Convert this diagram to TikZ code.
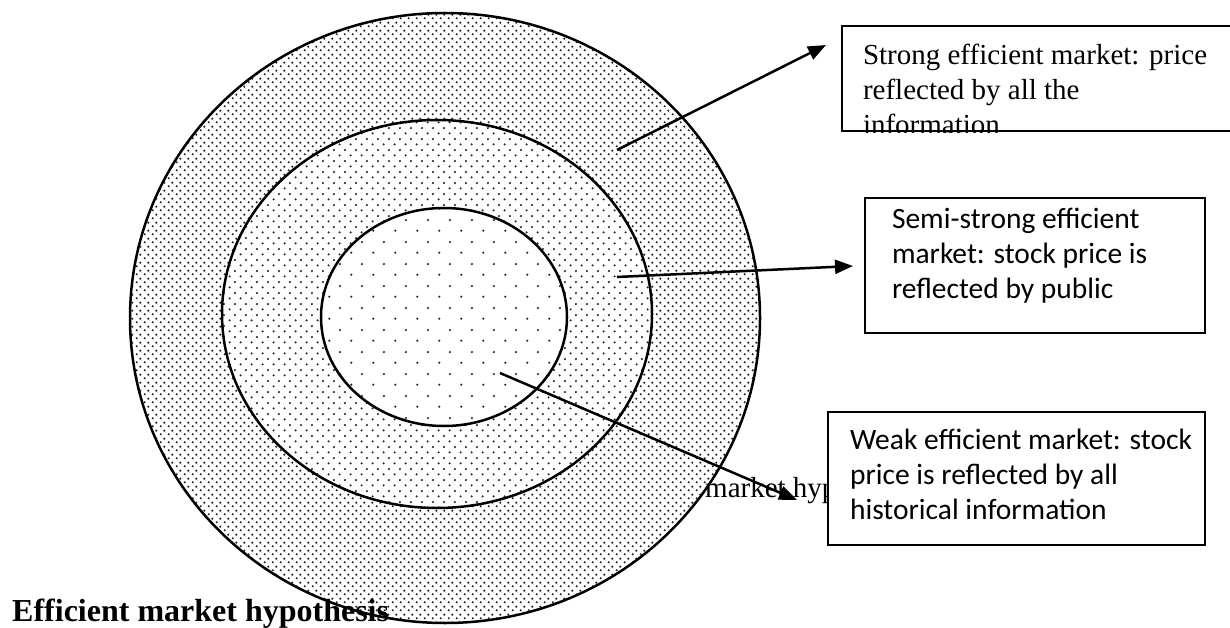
\documentclass[tikz,border=0pt]{standalone}
\usepackage{fontspec}
\setmainfont{Liberation Serif}
\newfontfamily\calibri{Carlito}
\usetikzlibrary{arrows.meta,patterns.meta}

\pgfdeclarepattern{
  name=densedots, type=uncolored,
  bottom left={\pgfpointorigin}, top right={\pgfpoint{7.5pt}{7.5pt}},
  tile size={\pgfpoint{7.5pt}{7.5pt}},
  code={\pgfpathcircle{\pgfpoint{1.875pt}{1.875pt}}{1.3pt}
        \pgfpathcircle{\pgfpoint{5.625pt}{5.625pt}}{1.3pt}\pgfusepath{fill}}}
\pgfdeclarepattern{
  name=middots, type=uncolored,
  bottom left={\pgfpointorigin}, top right={\pgfpoint{10.8pt}{10.8pt}},
  tile size={\pgfpoint{10.8pt}{10.8pt}},
  code={\pgfpathcircle{\pgfpoint{2.7pt}{2.7pt}}{1.2pt}
        \pgfpathcircle{\pgfpoint{8.1pt}{8.1pt}}{1.2pt}\pgfusepath{fill}}}
\pgfdeclarepattern{
  name=sparsedots, type=uncolored,
  bottom left={\pgfpointorigin}, top right={\pgfpoint{21.6pt}{21.6pt}},
  tile size={\pgfpoint{21.6pt}{21.6pt}},
  code={\pgfpathcircle{\pgfpoint{5.4pt}{5.4pt}}{1.2pt}
        \pgfpathcircle{\pgfpoint{16.2pt}{16.2pt}}{1.2pt}\pgfusepath{fill}}}

\tikzset{
  ring/.style={line width=2.5pt},
  dotted ring/.style={pattern=#1, pattern color=black!85},
  textbox/.style={draw, line width=2pt, fill=white, inner sep=0pt, outer sep=0pt, anchor=north west},
  pointer/.style={line width=2.5pt, -{Triangle[length=18pt,width=14pt]}},
}

\begin{document}
\begin{tikzpicture}[x=1pt,y=-1pt]
\useasboundingbox (0,0) rectangle (1230,628);

\node[font=\fontsize{29}{35}\selectfont, anchor=base west, inner sep=0pt] (leftover) at (705,497) {market hyp};

\fill[dotted ring=densedots] (445,318) ellipse [x radius=315pt, y radius=305pt];
\fill[white] (437,314) ellipse [x radius=215pt, y radius=194pt];
\fill[dotted ring=middots] (437,314) ellipse [x radius=215pt, y radius=194pt];
\fill[white] (444,317) ellipse [x radius=123pt, y radius=109pt];
\fill[dotted ring=sparsedots] (444,317) ellipse [x radius=123pt, y radius=109pt];
\draw[ring] (445,318) ellipse [x radius=315pt, y radius=305pt];
\draw[ring] (437,314) ellipse [x radius=215pt, y radius=194pt];
\draw[ring] (444,317) ellipse [x radius=123pt, y radius=109pt];

\coordinate (strongtail) at (617,150);
\coordinate (strongtip) at (826,45);
\coordinate (semitail) at (617,277);
\coordinate (semitip) at (853,266);
\coordinate (weaktail) at (500,373);
\coordinate (weaktip) at (797,500);

\draw[pointer] (strongtail) -- (strongtip);
\draw[pointer] (semitail) -- (semitip);
\draw[pointer] (weaktail) -- (weaktip);

\begin{scope}
\clip (838,22) rectangle (1250,132.5);
\node[textbox] (strong) at (842,26) {\parbox[t][105pt][t]{400pt}{\leftskip=21pt\fontsize{29}{35}\selectfont
  \rule{0pt}{39pt}Strong efficient market: price\\reflected by all the\\information}};
\end{scope}

\node[textbox] (semi) at (865,198) {\parbox[t][135pt][t]{340pt}{\leftskip=27pt\calibri\fontsize{29.5}{35}\selectfont
  \rule{0pt}{31pt}Semi-strong efficient\\market: stock price is\\reflected by public}};

\node[textbox] (weak) at (828,412) {\parbox[t][133pt][t]{377pt}{\leftskip=22pt\calibri\fontsize{29.5}{35}\selectfont
  \rule{0pt}{37pt}Weak efficient market: stock\\price is reflected by all\\historical information}};

\node[font=\bfseries\fontsize{32}{38}\selectfont, anchor=base west, inner sep=0pt] (title) at (12,621) {Efficient market hypothesis};
\end{tikzpicture}
\end{document}
